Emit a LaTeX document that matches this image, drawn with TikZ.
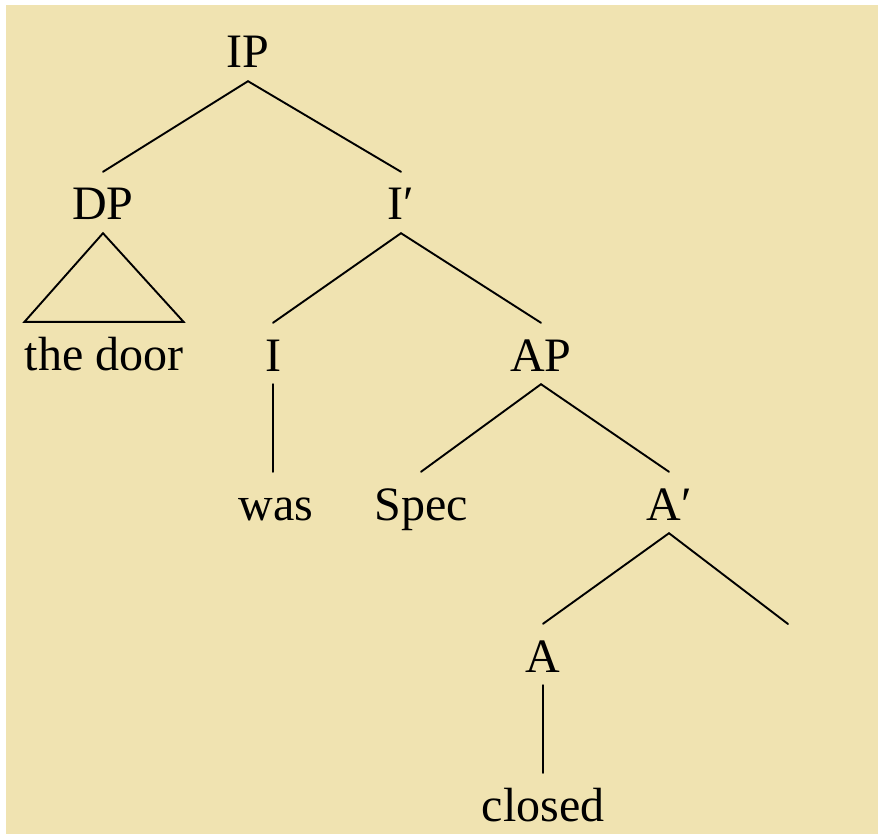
\documentclass[tikz,border=0pt]{standalone}
\usepackage{fontspec}
\setmainfont{Liberation Serif}
\definecolor{paper}{RGB}{240,227,177}

\begin{document}
\begin{tikzpicture}[x = 1pt, y = -1pt, font=\fontsize{48}{56}\selectfont]
	\tikzstyle{catStyle} = [anchor = base, inner sep = 0pt, text height = 48pt, text depth = 13pt]
	\tikzstyle{wordStyle} = [catStyle]
	\tikzstyle{branchStyle} = [line width = 1.9pt, line cap = round, line join = miter]
	\useasboundingbox (0,0) rectangle (878,834);
	\fill[paper] (6,5) rectangle (878,834);
	\node[catStyle] (IP) at (248, 68) {IP};
	\node[catStyle] (DP) at (103, 220) {DP};
	\node[catStyle] (Ibar) at (401, 220) {I′};
	\node[wordStyle] (door) at (104, 370) {the door};
	\node[catStyle] (I) at (273, 371) {I};
	\node[catStyle] (AP) at (541, 371) {AP};
	\node[wordStyle] (was) at (276, 520) {was};
	\node[catStyle] (Spec) at (421, 520) {Spec};
	\node[catStyle] (Abar) at (669, 520) {A′};
	\node[catStyle] (A) at (543, 672) {A};
	\node[wordStyle] (closed) at (543, 821) {closed};
	\coordinate (Aempty) at (788, 624);
	\draw[branchStyle] (DP.north) -- (IP.south) -- (Ibar.north);
	\draw[branchStyle] (DP.south) -- (door.north west) -- (door.north east) -- cycle;
	\draw[branchStyle] (I.north) -- (Ibar.south) -- (AP.north);
	\draw[branchStyle] (I.south) -- (I.south |- was.north);
	\draw[branchStyle] (Spec.north) -- (AP.south) -- (Abar.north);
	\draw[branchStyle] (A.north) -- (Abar.south) -- (Aempty);
	\draw[branchStyle] (A.south) -- (closed.north);
\end{tikzpicture}
\end{document}
